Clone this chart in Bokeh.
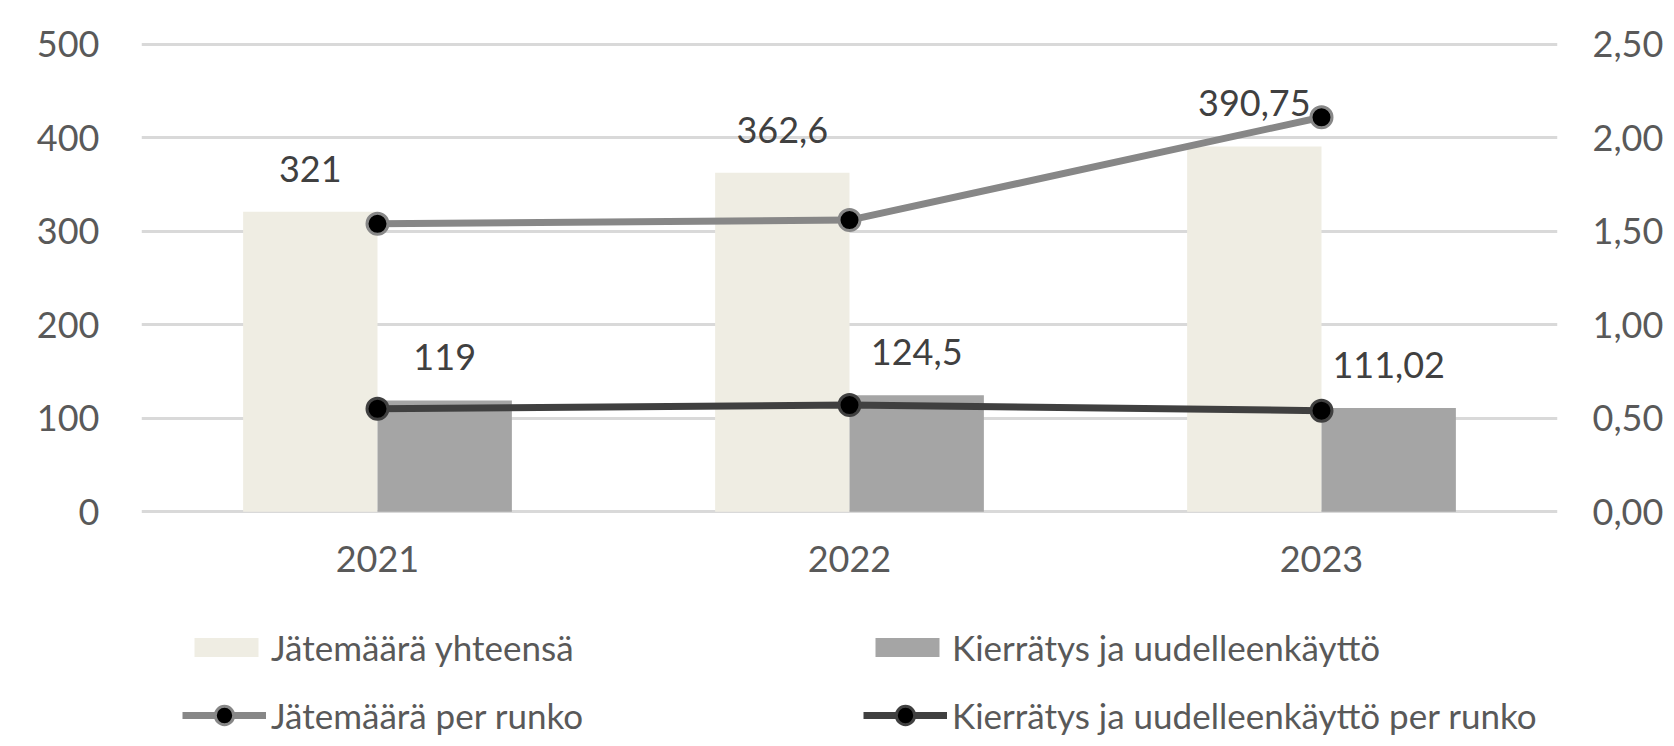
from bokeh.plotting import figure
from bokeh.models import (ColumnDataSource, FactorRange, Range1d, LinearAxis, FixedTicker,
                          Legend, LegendItem)
from bokeh.layouts import column
from bokeh.transform import dodge
from bokeh.core.properties import value
from bokeh.embed import file_html
from bokeh.resources import INLINE

years = ["2021", "2022", "2023"]
total_waste = [321, 362.6, 390.75]
recycled = [119, 124.5, 111.02]
waste_per_hull = [1.54, 1.56, 2.11]
recycled_per_hull = [0.55, 0.57, 0.54]
left_ticks = [0, 100, 200, 300, 400, 500]
right_ticks = [0.0, 0.5, 1.0, 1.5, 2.0, 2.5]

names = ["Jätemäärä yhteensä", "Kierrätys ja uudelleenkäyttö",
         "Jätemäärä per runko", "Kierrätys ja uudelleenkäyttö per runko"]

BAR1 = "#EFEDE3"
BAR2 = "#A5A5A5"
LINE1 = "#878787"
LINE2 = "#404040"

def fmt(v):
    return f"{v:g}".replace(".", ",")

src = ColumnDataSource(dict(
    year=years, total=total_waste, rec=recycled,
    wph=waste_per_hull, rph=recycled_per_hull,
    total_lbl=[fmt(v) for v in total_waste],
    rec_lbl=[fmt(v) for v in recycled],
))

FONT = "Lato"
TICK_COLOR = "#595959"
W = 1666

p = figure(width=W, height=600, x_range=FactorRange(*years, range_padding=0),
           y_range=Range1d(-2, 502), output_backend="svg", toolbar_location=None,
           min_border_left=141, min_border_right=108, min_border_top=42,
           min_border_bottom=87)
p.extra_y_ranges = {"right": Range1d(-0.01, 2.51)}
p.outline_line_color = None

bw = 0.2847
p.vbar(x=dodge("year", -bw / 2, range=p.x_range), top="total", width=bw,
       source=src, fill_color=BAR1, line_color=None)
p.vbar(x=dodge("year", bw / 2, range=p.x_range), top="rec", width=bw,
       source=src, fill_color=BAR2, line_color=None)

p.line(x="year", y="wph", source=src, y_range_name="right",
       line_color=LINE1, line_width=7)
p.scatter(x="year", y="wph", source=src, y_range_name="right", size=21,
          fill_color="black", line_color=LINE1, line_width=3)
p.line(x="year", y="rph", source=src, y_range_name="right",
       line_color=LINE2, line_width=7)
p.scatter(x="year", y="rph", source=src, y_range_name="right", size=21,
          fill_color="black", line_color=LINE2, line_width=3)

p.text(x=dodge("year", -bw / 2, range=p.x_range), y="total", text="total_lbl",
       source=src, y_offset=-43, text_align="center", text_baseline="middle",
       text_font=value(FONT), text_font_size="36px", text_color="#404040")
p.text(x=dodge("year", bw / 2, range=p.x_range), y="rec", text="rec_lbl",
       source=src, y_offset=-43, text_align="center", text_baseline="middle",
       text_font=value(FONT), text_font_size="36px", text_color="#404040")

p.yaxis.ticker = FixedTicker(ticks=left_ticks)
for ax in [p.yaxis[0], p.xaxis[0]]:
    ax.axis_line_color = None
    ax.major_tick_line_color = None
    ax.minor_tick_line_color = None
    ax.major_label_text_font = FONT
    ax.major_label_text_font_size = "36px"
    ax.major_label_text_color = TICK_COLOR
p.yaxis.major_label_standoff = 36
p.xaxis.major_label_standoff = 26

ra = LinearAxis(y_range_name="right", ticker=FixedTicker(ticks=right_ticks))
ra.major_label_overrides = {t: f"{t:.2f}".replace(".", ",") for t in right_ticks}
ra.axis_line_color = None
ra.major_tick_line_color = None
ra.minor_tick_line_color = None
ra.major_label_text_font = FONT
ra.major_label_text_font_size = "36px"
ra.major_label_text_color = TICK_COLOR
ra.major_label_standoff = 29
p.add_layout(ra, "right")

p.xgrid.grid_line_color = None
p.ygrid.ticker = FixedTicker(ticks=left_ticks)
p.ygrid.grid_line_color = "#D9D9D9"
p.ygrid.grid_line_width = 3

# ---- legend strip below the chart (proxy glyphs carry no drawable points) ----
lf = figure(width=W, height=138, x_range=Range1d(0, 1), y_range=Range1d(0, 1),
            x_axis_type=None, y_axis_type=None, output_backend="svg",
            toolbar_location=None, min_border=0)
lf.outline_line_color = None
lf.xgrid.visible = False
lf.ygrid.visible = False
nan = float("nan")
proxy = ColumnDataSource(dict(x=[nan], y=[nan]))
g1 = lf.vbar(x="x", top="y", width=0.1, source=proxy, fill_color=BAR1, line_color=None)
g2 = lf.vbar(x="x", top="y", width=0.1, source=proxy, fill_color=BAR2, line_color=None)
g3l = lf.line(x="x", y="y", source=proxy, line_color=LINE1, line_width=7)
g3m = lf.scatter(x="x", y="y", source=proxy, fill_color="black", line_color=LINE1, line_width=3)
g4l = lf.line(x="x", y="y", source=proxy, line_color=LINE2, line_width=7)
g4m = lf.scatter(x="x", y="y", source=proxy, fill_color="black", line_color=LINE2, line_width=3)

def make_legend(items, gw, gh, loc):
    lg = Legend(items=items, orientation="horizontal", location=loc)
    lg.background_fill_alpha = 0
    lg.border_line_alpha = 0
    lg.padding = 0
    lg.margin = 0
    lg.spacing = 0
    lg.glyph_width = gw
    lg.glyph_height = gh
    lg.label_height = 40
    lg.label_width = 681 - gw - 5
    lg.label_standoff = 5
    lg.label_text_font = FONT
    lg.label_text_font_size = "35px"
    lg.label_text_color = TICK_COLOR
    return lg

leg_a = make_legend([LegendItem(label=names[0], renderers=[g1]),
                     LegendItem(label=names[1], renderers=[g2])], 80, 24, (45, 70))
leg_b = make_legend([LegendItem(label=names[2], renderers=[g3l, g3m]),
                     LegendItem(label=names[3], renderers=[g4l, g4m])], 84, 46, (41, 0))
lf.add_layout(leg_a, "center")
lf.add_layout(leg_b, "center")

layout = column(p, lf, spacing=0)
open("out.html", "w").write(file_html(layout, INLINE))
